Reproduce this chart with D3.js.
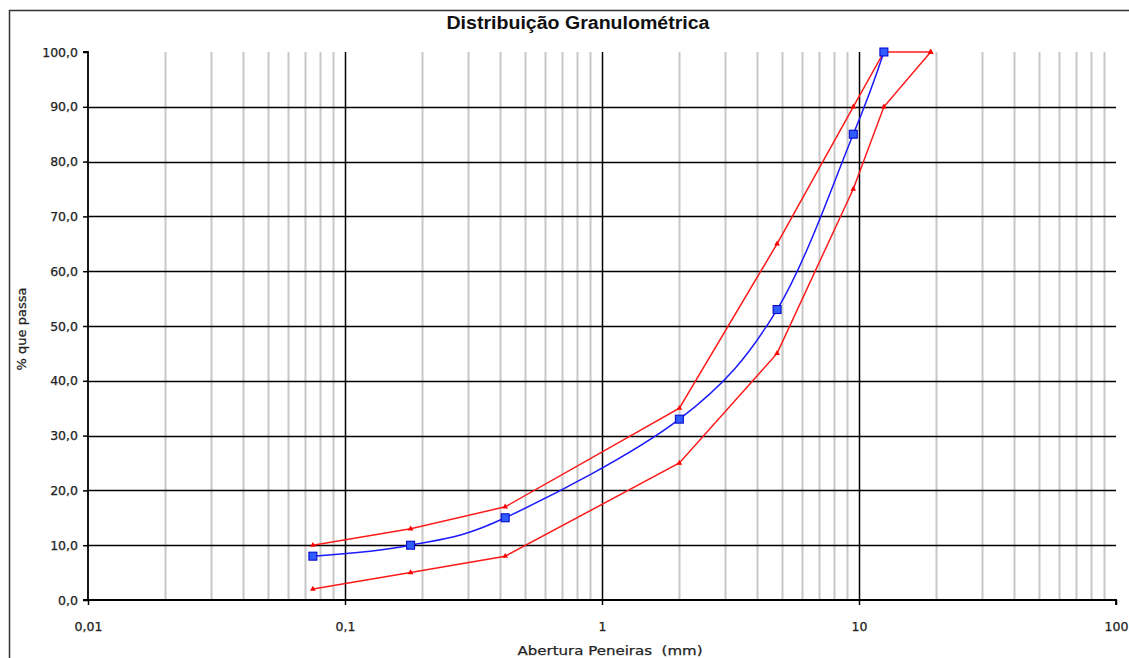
<!DOCTYPE html>
<html><head><meta charset="utf-8">
<script src="https://cdn.jsdelivr.net/npm/d3@7"></script>
<style>body{margin:0;background:#fff}svg{display:block}</style>
</head><body>
<svg id="c" width="1129" height="658"></svg>
<script>
const sieves = [0.075, 0.18, 0.42, 2.0, 4.8, 9.5, 12.5];
const passing = [8, 10, 15, 33, 53, 85, 100];
const upperX = [0.075, 0.18, 0.42, 2.0, 4.8, 9.5, 12.5, 19];
const upperY = [10, 13, 17, 35, 65, 90, 100, 100];
const lowerX = [0.075, 0.18, 0.42, 2.0, 4.8, 9.5, 12.5, 19];
const lowerY = [2, 5, 8, 25, 45, 75, 90, 100];
const yTicks = [0,10,20,30,40,50,60,70,80,90,100];
const xTicks = [0.01, 0.1, 1, 10, 100];
const xTickLabels = ["0,01", "0,1", "1", "10", "100"];

const svg = d3.select("#c");
const x = d3.scaleLog().domain([0.01, 100]).range([88, 1116]);
const y = d3.scaleLinear().domain([0, 100]).range([600, 52]);

// outer frame
svg.append("path").attr("d","M9.5,1000 V10.5 H1200").attr("fill","none").attr("stroke","#333").attr("stroke-width",1.5);

// minor vertical grid
const minor = [];
for (let d = 0.01; d < 100; d *= 10) for (let k = 2; k <= 9; k++) minor.push(+(d*k).toPrecision(3));
svg.append("g").selectAll("line").data(minor).join("line")
  .attr("x1", d => Math.round(x(d))+0.5).attr("x2", d => Math.round(x(d))+0.5)
  .attr("y1", y(100)).attr("y2", y(0))
  .attr("stroke", "#c8c8c8").attr("stroke-width", 2);
// major vertical
svg.append("g").selectAll("line").data([0.1,1,10]).join("line")
  .attr("x1", d => Math.round(x(d))+0.5).attr("x2", d => Math.round(x(d))+0.5)
  .attr("y1", y(100)).attr("y2", y(0))
  .attr("stroke", "#000").attr("stroke-width", 1.5);
// horizontal grid
svg.append("g").selectAll("line").data(yTicks.filter(v => v > 0 && v < 100)).join("line")
  .attr("x1", x(0.01)).attr("x2", x(100))
  .attr("y1", d => Math.round(y(d))+0.5).attr("y2", d => Math.round(y(d))+0.5)
  .attr("stroke", "#000").attr("stroke-width", 1.5);

// axes
const yAxis = d3.axisLeft(y).tickValues(yTicks).tickSize(5).tickPadding(5)
  .tickFormat(d => d3.format(".1f")(d).replace(".", ","));
const gy = svg.append("g").attr("transform", `translate(${x(0.01)},0)`).call(yAxis);
const xAxis = d3.axisBottom(x).tickValues(xTicks).tickSize(5).tickPadding(17)
  .tickFormat((d,i) => xTickLabels[i]);
const gx = svg.append("g").attr("transform", `translate(0,${y(0)})`).call(xAxis);
[gy, gx].forEach(g => {
  g.select(".domain").attr("stroke", "#000").attr("stroke-width", 1.8);
  g.selectAll(".tick line").attr("stroke", "#000").attr("stroke-width", 1.5);
  g.selectAll("text").attr("font-family", "DejaVu Sans, sans-serif").attr("font-size", 12.5)
    .attr("fill", "#222").attr("stroke", "#222").attr("stroke-width", 0.25);
});
gy.select(".domain").attr("d", `M-5,${y(100)}H0V${y(0)}H-5`);
gx.select(".domain").attr("d", `M${x(0.01)},0H${x(100)}V5`);

// red envelope lines
const line = d3.line().x(d => x(d[0])).y(d => y(d[1]));
[[upperX, upperY], [lowerX, lowerY]].forEach(([xs, ys]) => {
  const pts = xs.map((v, i) => [v, ys[i]]);
  svg.append("path").attr("d", line(pts)).attr("fill", "none").attr("stroke", "#ff1a1a").attr("stroke-width", 1.5);
  svg.append("g").selectAll("path").data(pts).join("path")
    .attr("d", d3.symbol(d3.symbolTriangle, 14))
    .attr("transform", d => `translate(${x(d[0])},${y(d[1])})`)
    .attr("fill", "#ff0000");
});

// blue curve
const bpts = sieves.map((v, i) => [v, passing[i]]);
svg.append("path").attr("d", line.curve(d3.curveCardinal.tension(0))(bpts))
  .attr("fill", "none").attr("stroke", "#1a1aff").attr("stroke-width", 1.5);
svg.append("g").selectAll("rect").data(bpts).join("rect")
  .attr("x", d => x(d[0]) - 4).attr("y", d => y(d[1]) - 4)
  .attr("width", 8).attr("height", 8)
  .attr("fill", "#2f5cff").attr("stroke", "#0000cc").attr("stroke-width", 1);

// titles
svg.append("text").attr("x", 578).attr("y", 29).attr("text-anchor", "middle")
  .attr("font-family", "Liberation Sans, Arial, sans-serif").attr("font-weight", "bold").attr("font-size", 18)
  .attr("textLength", 263).attr("lengthAdjust", "spacingAndGlyphs")
  .attr("fill", "#111").text("Distribuição Granulométrica");
svg.append("text").attr("x", 610).attr("y", 655).attr("text-anchor", "middle")
  .style("white-space", "pre")
  .attr("font-family", "DejaVu Sans, sans-serif").attr("font-size", 13)
  .attr("textLength", 185).attr("lengthAdjust", "spacingAndGlyphs")
  .attr("fill", "#222").attr("stroke", "#222").attr("stroke-width", 0.25).text("Abertura Peneiras  (mm)");
svg.append("text").attr("transform", "translate(26,329) rotate(-90)").attr("text-anchor", "middle")
  .attr("font-family", "DejaVu Sans, sans-serif").attr("font-size", 13)
  .attr("fill", "#222").attr("stroke", "#222").attr("stroke-width", 0.25).text("% que passa");
</script>
</body></html>
